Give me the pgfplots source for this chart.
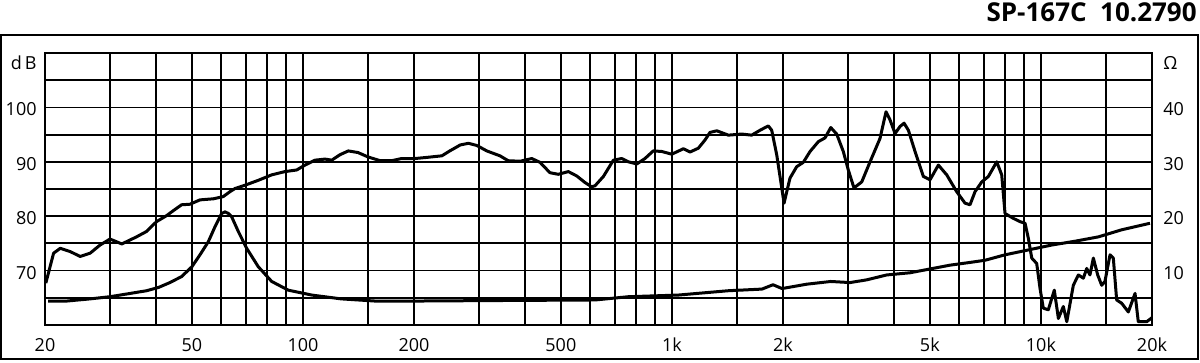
\documentclass[border=0pt]{standalone}
\usepackage{fontspec}
\setmainfont{Open Sans}
\usepackage{pgfplots}
\pgfplotsset{compat=1.18}
\begin{document}
\begin{tikzpicture}
\path[use as bounding box] (0,0) rectangle (600pt,181.5pt);
\draw[line width=0.8pt] (0.5pt,2pt) rectangle (599pt,164pt);
\node[anchor=base east, font=\bfseries\fontsize{13}{14}\selectfont, inner sep=0pt] at (598.5pt,170.5pt) {SP-167C\ \ 10.2790};
\node[anchor=east, font=\fontsize{9}{9}\selectfont, inner sep=0pt] at (18.5pt,150pt) {d\,B};
\node[anchor=west, font=\fontsize{9}{9}\selectfont, inner sep=0pt] at (581.5pt,150pt) {Ω};
\begin{axis}[
  at={(22.5pt,19pt)}, anchor=south west, scale only axis,
  width=553.5pt, height=136pt,
  xmode=log, xmin=20, xmax=20000,
  major tick length=0pt, minor tick length=0pt,
  ticklabel style={font=\fontsize{9}{9}\selectfont},
  /pgf/number format/assume math mode=true,
  axis line style={line width=0.9pt},
  ymin=60, ymax=110,
  ytick={65,70,75,80,85,90,95,100,105},
  yticklabels={,70,,80,,90,,100,},
  xtick={20,30,40,50,60,70,80,90,100,150,200,300,400,500,600,700,800,900,1000,1500,2000,3000,4000,5000,6000,7000,8000,9000,10000,15000,20000},
  xticklabels={20,,,50,,,,,100,,200,,,500,,,,,1k,,2k,,,5k,,,,,10k,,20k},
  xmajorgrids, ymajorgrids,
  major grid style={black, line width=0.9pt},
  yticklabel style={anchor=east, inner sep=0pt, xshift=-4pt, yshift=-1pt},
  xticklabel style={anchor=base, inner sep=0pt, yshift=-13.5pt},
]
\addplot[black, line width=1.5pt, line join=round] coordinates {
(20.1,67.7) (21.1,73.2) (22.0,74.1) (23.4,73.5) (24.9,72.6) (26.5,73.2) (28.2,74.7) (30.0,75.8) (32.3,74.9) (35.4,76.2) (37.7,77.2) (40.1,79.0) (42.7,80.1) (44.5,81.0) (46.9,82.1) (49.4,82.2) (52.6,83.0) (57.2,83.2) (60.8,83.6) (63.4,84.5) (65.5,85.1) (69.7,85.7) (75.7,86.6) (82.3,87.6) (89.4,88.2) (96.2,88.5) (101.3,89.4) (107.8,90.3) (114.8,90.5) (119.7,90.3) (126,91.3) (132.7,92.0) (141,91.7) (150,90.9) (162,90.2) (174,90.2) (185,90.6) (201,90.6) (216,90.8) (238,91.1) (250,92.0) (267,93.1) (281,93.4) (296,93.0) (315,92.0) (342,91.1) (360,90.2) (388,90.1) (417,90.6) (439,89.9) (467,88.0) (492,87.7) (524,88.2) (552,87.4) (581,86.2) (606,85.4) (619,85.6) (652,87.3) (694,90.3) (731,90.6) (762,90.0) (803,89.6) (845,90.6) (890,92.0) (938,91.9) (999,91.4) (1074,92.4) (1120,91.8) (1179,92.5) (1229,94.0) (1268,95.4) (1323,95.7) (1422,94.9) (1545,95.1) (1645,94.9) (1733,95.8) (1825,96.6) (1864,95.8) (1923,91.3) (2013,82.4) (2089,87.0) (2178,89.1) (2270,89.9) (2368,91.9) (2493,93.7) (2600,94.4) (2694,96.3) (2796,95.1) (2913,91.9) (3006,88.5) (3114,85.2) (3269,86.3) (3443,90.0) (3664,94.3) (3804,99.2) (3900,97.7) (4024,95.2) (4152,96.5) (4257,97.1) (4373,95.8) (4558,91.9) (4801,87.3) (5006,86.7) (5273,89.4) (5555,87.6) (5912,84.5) (6227,82.4) (6424,82.1) (6628,84.5) (6912,86.3) (7204,87.3) (7590,90.0) (7830,87.6) (7993,80.5) (8418,79.6) (8779,79.0) (9057,78.7) (9247,75.9) (9443,72.3) (9740,71.3) (9944,66.7) (10150,63.1) (10470,62.8) (10870,66.4) (11150,61.2) (11500,63.4) (11750,60.6) (12240,67.3) (12630,69.2) (13030,68.6) (13310,70.4) (13580,69.2) (13870,72.3) (14250,69.2) (14610,67.3) (14910,68.0) (15390,72.9) (15710,72.3) (16040,64.6) (16550,64.0) (17250,62.4) (17990,65.8) (18360,60.6) (19350,60.6) (19960,61.3)
};
\end{axis}
\begin{axis}[
  at={(22.5pt,19pt)}, anchor=south west, scale only axis,
  width=553.5pt, height=136pt,
  xmode=log, xmin=20, xmax=20000,
  major tick length=0pt, minor tick length=0pt,
  ticklabel style={font=\fontsize{9}{9}\selectfont},
  /pgf/number format/assume math mode=true,
  axis line style={line width=0.9pt},
  ymin=0, ymax=50,
  axis y line*=right, axis x line=none,
  ytick={10,20,30,40},
  yticklabel style={anchor=west, inner sep=0pt, xshift=5.5pt, yshift=-1pt},
]
\addplot[black, line width=1.5pt, line join=round] coordinates {
(20.4,4.4) (22.9,4.4) (26.5,4.8) (30,5.2) (34,5.8) (37.7,6.3) (40.6,6.9) (43.6,7.8) (46.9,8.9) (50,10.7) (52.6,12.9) (55.4,15.3) (57.8,18.1) (60.2,20.5) (61.5,20.8) (62.8,20.5) (64.1,19.9) (66.8,17.2) (70.4,14.1) (75.7,10.7) (82.3,8.0) (91.3,6.4) (105.7,5.5) (127,4.8) (157,4.4) (201,4.4) (342,4.5) (619,4.6) (762,5.2) (1039,5.5) (1422,6.3) (1754,6.6) (1879,7.4) (1988,6.7) (2318,7.5) (2694,8.0) (3038,7.8) (3372,8.3) (3820,9.2) (4418,9.6) (5006,10.3) (5672,11.0) (6424,11.5) (7054,11.9) (7993,12.9) (9247,13.8) (10700,14.7) (12370,15.4) (14310,16.2) (16550,17.5) (19750,18.7)
};
\end{axis}
\end{tikzpicture}
\end{document}
